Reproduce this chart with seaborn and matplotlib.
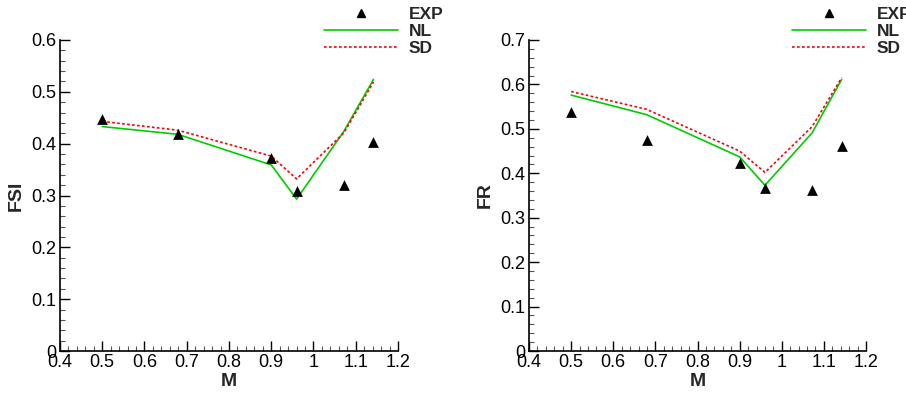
import matplotlib
matplotlib.use("Agg")
import matplotlib.pyplot as plt
import seaborn as sns
import pandas as pd
from matplotlib.ticker import MultipleLocator, FuncFormatter
from matplotlib.lines import Line2D

# ---- data ----
mach = [0.5, 0.679, 0.90, 0.96, 1.072, 1.142]

fsi_exp = [0.448, 0.419, 0.372, 0.309, 0.320, 0.404]
fsi_nl = [0.433, 0.418, 0.359, 0.293, 0.424, 0.524]
fsi_sd = [0.443, 0.426, 0.376, 0.332, 0.421, 0.519]

fr_exp = [0.538, 0.474, 0.424, 0.366, 0.363, 0.461]
fr_nl = [0.576, 0.532, 0.437, 0.373, 0.491, 0.611]
fr_sd = [0.584, 0.544, 0.450, 0.402, 0.505, 0.615]

x_ticks = [0.4, 0.5, 0.6, 0.7, 0.8, 0.9, 1.0, 1.1, 1.2]
legend_labels = ["EXP", "NL", "SD"]

sns.set_style("ticks")
plt.rcParams['font.family'] = ['Liberation Sans', 'DejaVu Sans']

fig = plt.figure(figsize=(9.06, 3.96), dpi=100)
ax1 = fig.add_axes([0.0662, 0.1136, 0.3731, 0.7854])
ax2 = fig.add_axes([0.5839, 0.1136, 0.3720, 0.7854])

GREEN = "#00cc00"
RED = "#ff0000"

def fmt(v, pos):
    return "%g" % round(v, 3)

def draw(ax, exp, nl, sd, ylabel, ymax, leg_x):
    df = pd.DataFrame({"M": mach, "EXP": exp, "NL": nl, "SD": sd})
    sns.lineplot(data=df, x="M", y="NL", ax=ax, color=GREEN, lw=1.2)
    sns.lineplot(data=df, x="M", y="SD", ax=ax, color=RED, lw=1.2,
                 linestyle=(0, (1.6, 1.4)))
    sns.scatterplot(data=df, x="M", y="EXP", ax=ax, marker="^", color="black",
                    s=60, edgecolor="black", linewidth=0, zorder=5)
    ax.set_xlim(0.4, 1.2)
    ax.set_ylim(0, ymax)
    ax.set_xticks(x_ticks)
    ax.xaxis.set_minor_locator(MultipleLocator(0.02))
    ax.yaxis.set_major_locator(MultipleLocator(0.1))
    ax.yaxis.set_minor_locator(MultipleLocator(0.02))
    ax.xaxis.set_major_formatter(FuncFormatter(fmt))
    ax.yaxis.set_major_formatter(FuncFormatter(fmt))
    ax.tick_params(which="major", direction="in", length=7.5, width=1.0,
                   labelsize=13, pad=2.5, colors="black")
    ax.tick_params(which="minor", direction="in", length=3.5, width=0.8,
                   color="#555555")
    for s in ["top", "right"]:
        ax.spines[s].set_visible(False)
    for s in ["left", "bottom"]:
        ax.spines[s].set_linewidth(1.2)
        ax.spines[s].set_color("black")
    ax.set_xlabel("M", fontsize=14, fontweight="bold", labelpad=1)
    ax.set_ylabel(ylabel, fontsize=14, fontweight="bold", labelpad=5)
    handles = [
        Line2D([], [], marker="^", color="black", linestyle="none", markersize=6),
        Line2D([], [], color=GREEN, lw=1.2),
        Line2D([], [], color=RED, lw=1.2, linestyle=(0, (1.6, 1.4))),
    ]
    ax.legend(handles, legend_labels, loc="upper left",
              bbox_to_anchor=(leg_x, 1.0 - 5 / 396), bbox_transform=fig.transFigure,
              frameon=False, handlelength=4.3, handletextpad=0.6,
              labelspacing=0.12, borderaxespad=0, borderpad=0.1,
              prop={"weight": "bold", "size": 12.5})

draw(ax1, fsi_exp, fsi_nl, fsi_sd, "FSI", 0.6, 322 / 906)
draw(ax2, fr_exp, fr_nl, fr_sd, "FR", 0.7, 790 / 906)

fig.savefig("out.png", dpi=100)
